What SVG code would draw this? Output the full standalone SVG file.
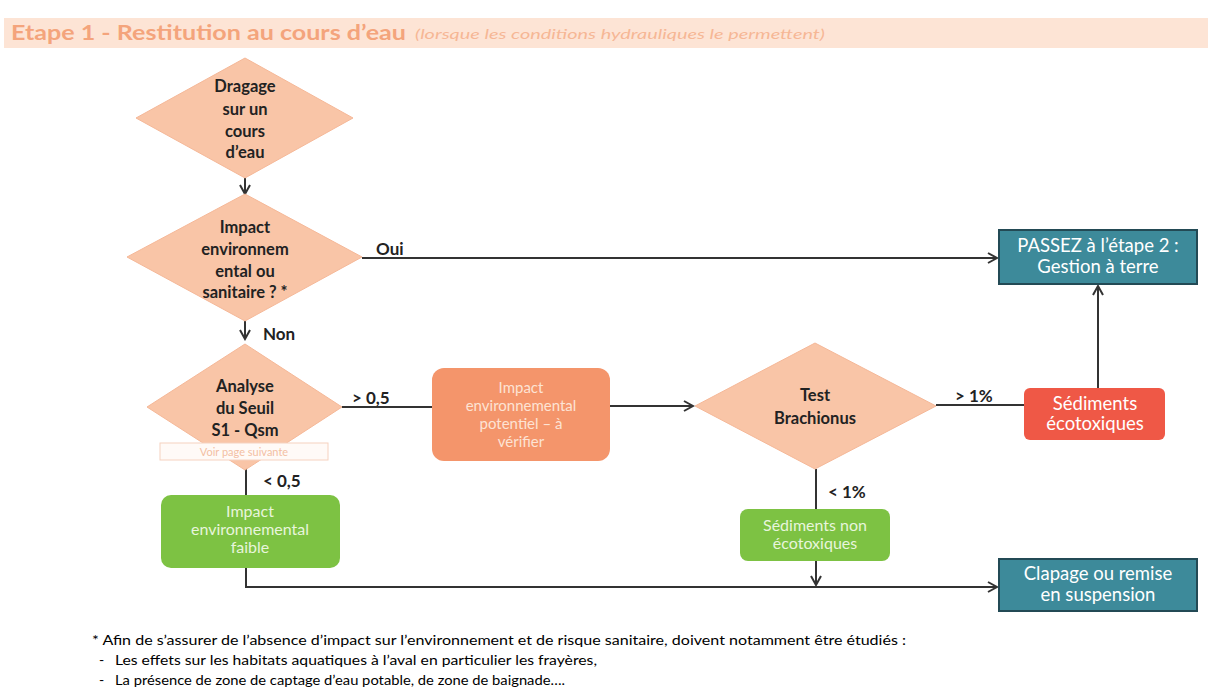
<svg xmlns="http://www.w3.org/2000/svg" width="1208" height="689" viewBox="0 0 1208 689">
<defs>
<marker id="arr" markerWidth="12" markerHeight="12" refX="10" refY="6" orient="auto" markerUnits="userSpaceOnUse">
<path d="M1,1 L10,6 L1,11" fill="none" stroke="#333" stroke-width="2"/>
</marker>
<style>
.dia{fill:#f9c5a7;stroke:#f5b898;stroke-width:1}
.dt{font-family:Lato,"Liberation Sans",sans-serif;font-weight:bold;font-size:16.5px;fill:#222;text-anchor:middle}
.lbl{font-family:Lato,"Liberation Sans",sans-serif;font-weight:bold;font-size:17px;fill:#222}
.bt{font-family:Lato,"Liberation Sans",sans-serif;font-size:16px;text-anchor:middle}
.bs{font-family:Lato,"Liberation Sans",sans-serif;font-size:15px;text-anchor:middle}
.tt{font-family:Lato,"Liberation Sans",sans-serif;font-size:18.5px;fill:#fff;text-anchor:middle}
.ln{fill:none;stroke:#333;stroke-width:2}
.teal{fill:#3d8a9a;stroke:#234a55;stroke-width:2}
.fn{font-family:Lato,"Liberation Sans",sans-serif;font-size:14px;fill:#000}
</style>
</defs>
<rect width="1208" height="689" fill="#fff"/>
<g id="title">
<rect x="4" y="18" width="1204" height="30" fill="#fde4d5"/>
<text x="11" y="40" font-family="Lato,'Liberation Sans',sans-serif" font-weight="bold" font-size="21" fill="#f4a47c" textLength="395" lengthAdjust="spacingAndGlyphs">Etape 1 - Restitution au cours d’eau</text>
<text x="415" y="39" font-family="Lato,'Liberation Sans',sans-serif" font-style="italic" font-size="13.5" fill="#f6b795" textLength="410" lengthAdjust="spacingAndGlyphs">(lorsque les conditions hydrauliques le permettent)</text>
</g>
<g id="connectors">
<line class="ln" x1="245" y1="178" x2="245" y2="194" marker-end="url(#arr)"/>
<line class="ln" x1="362" y1="258" x2="997" y2="258" marker-end="url(#arr)"/>
<line class="ln" x1="245" y1="321" x2="245" y2="339" marker-end="url(#arr)"/>
<line class="ln" x1="342" y1="407" x2="432" y2="407"/>
<line class="ln" x1="610" y1="406" x2="693" y2="406" marker-end="url(#arr)"/>
<line class="ln" x1="936" y1="405" x2="1024" y2="405"/>
<line class="ln" x1="1098" y1="388" x2="1098" y2="286" marker-end="url(#arr)"/>
<line class="ln" x1="246" y1="461" x2="246" y2="495"/>
<line class="ln" x1="816" y1="469" x2="816" y2="509"/>
<line class="ln" x1="816" y1="561" x2="816" y2="585" marker-end="url(#arr)"/>
<polyline class="ln" points="246,568 246,587 997,587" marker-end="url(#arr)"/>
<text class="lbl" x="376" y="255">Oui</text>
<text class="lbl" x="263" y="340">Non</text>
<text class="lbl" x="352" y="404">&gt; 0,5</text>
<text class="lbl" x="263" y="487">&lt; 0,5</text>
<text class="lbl" x="955" y="402">&gt; 1%</text>
<text class="lbl" x="828" y="498">&lt; 1%</text>
</g>
<g id="n_dragage">
<polygon class="dia" points="245,58 353,118 245,178 136,118"/>
<text class="dt" x="245" y="92">Dragage</text>
<text class="dt" x="245" y="115">sur un</text>
<text class="dt" x="245" y="137">cours</text>
<text class="dt" x="245" y="158">d’eau</text>
</g>
<g id="n_impact">
<polygon class="dia" points="245,194 362,257 245,321 127,257"/>
<text class="dt" x="245" y="233">Impact</text>
<text class="dt" x="245" y="255">environnem</text>
<text class="dt" x="245" y="277">ental ou</text>
<text class="dt" x="245" y="298">sanitaire ? *</text>
</g>
<g id="n_seuil">
<polygon class="dia" points="245,344 342,407 245,470 147,407"/>
<text class="dt" x="245" y="392">Analyse</text>
<text class="dt" x="245" y="414">du Seuil</text>
<text class="dt" x="245" y="436">S1 - Qsm</text>
<rect x="160" y="443" width="168" height="17" fill="#fffaf7" stroke="#f6d2bf" stroke-width="1"/>
<text x="244" y="456" font-family="Lato,'Liberation Sans',sans-serif" font-size="11" fill="#f3bfa3" text-anchor="middle">Voir page suivante</text>
</g>
<g id="n_potentiel">
<rect x="432" y="368" width="178" height="93" rx="12" fill="#f4956b"/>
<text class="bs" x="521" y="393" fill="#fde3d4">Impact</text>
<text class="bs" x="521" y="411" fill="#fde3d4">environnemental</text>
<text class="bs" x="521" y="429" fill="#fde3d4">potentiel – à</text>
<text class="bs" x="521" y="447" fill="#fde3d4">vérifier</text>
</g>
<g id="n_brachionus">
<polygon class="dia" points="815,343 936,406 815,469 695,406"/>
<text class="dt" x="815" y="401">Test</text>
<text class="dt" x="815" y="424">Brachionus</text>
</g>
<g id="n_ecotox">
<rect x="1024" y="388" width="141" height="52" rx="6" fill="#ef5846"/>
<text class="tt" x="1095" y="410" font-size="17.5">Sédiments</text>
<text class="tt" x="1095" y="430" font-size="17.5">écotoxiques</text>
</g>
<g id="n_etape2">
<rect class="teal" x="999" y="230" width="198" height="54"/>
<text class="tt" x="1098" y="252">PASSEZ à l’étape 2 :</text>
<text class="tt" x="1098" y="273">Gestion à terre</text>
</g>
<g id="n_faible">
<rect x="161" y="495" width="179" height="73" rx="10" fill="#7dc243"/>
<text class="bt" x="250" y="517" fill="#e8f5dc">Impact</text>
<text class="bt" x="250" y="535" fill="#e8f5dc">environnemental</text>
<text class="bt" x="250" y="553" fill="#e8f5dc">faible</text>
</g>
<g id="n_nonecotox">
<rect x="740" y="509" width="150" height="52" rx="8" fill="#7dc243"/>
<text class="bt" x="815" y="531" fill="#e8f5dc">Sédiments non</text>
<text class="bt" x="815" y="549" fill="#e8f5dc">écotoxiques</text>
</g>
<g id="n_clapage">
<rect class="teal" x="999" y="559" width="198" height="52"/>
<text class="tt" x="1098" y="580">Clapage ou remise</text>
<text class="tt" x="1098" y="601">en suspension</text>
</g>
<g id="footnote">
<text class="fn" x="92" y="645" textLength="814" lengthAdjust="spacingAndGlyphs">* Afin de s’assurer de l’absence d’impact sur l’environnement et de risque sanitaire, doivent notamment être étudiés :</text>
<text class="fn" x="99" y="665" fill="#888">-</text>
<text class="fn" x="115" y="665" textLength="482" lengthAdjust="spacingAndGlyphs">Les effets sur les habitats aquatiques à l’aval en particulier les frayères,</text>
<text class="fn" x="99" y="685" fill="#888">-</text>
<text class="fn" x="115" y="685" textLength="450" lengthAdjust="spacingAndGlyphs">La présence de zone de captage d’eau potable, de zone de baignade….</text>
</g>
</svg>
